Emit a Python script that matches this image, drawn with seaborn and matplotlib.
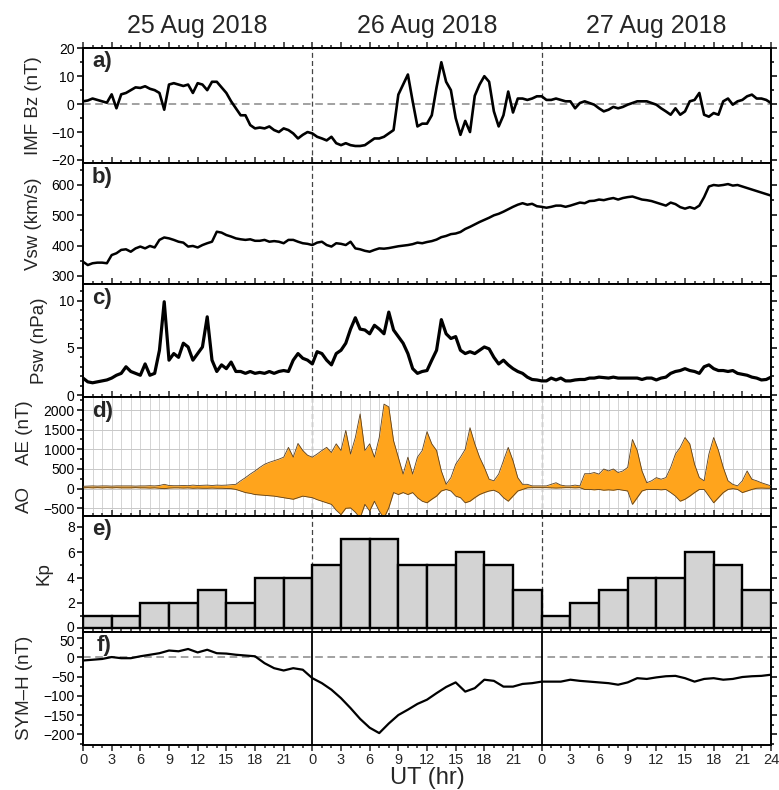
import numpy as np
import pandas as pd
import matplotlib
matplotlib.use("Agg")
import matplotlib.pyplot as plt
import matplotlib.transforms as mtrans
from matplotlib.ticker import MultipleLocator, FixedLocator, FixedFormatter
import seaborn as sns

# ---------------- data ----------------
day_labels = ["25 Aug 2018", "26 Aug 2018", "27 Aug 2018"]

# half-hourly samples, hour 0 (25 Aug 00 UT) to hour 72
t_half = np.arange(0, 72.01, 0.5)

imf_bz = [
    1.0, 1.3, 2.0, 1.5, 1.0, 0.5, 3.5, -1.5, 3.5, 4.0,
    5.0, 6.0, 5.8, 6.4, 5.5, 5.0, 4.0, -2.0, 7.0, 7.5,
    7.0, 6.5, 7.0, 4.0, 7.5, 7.0, 5.0, 8.0, 8.0, 6.0,
    4.0, 1.0, -1.5, -4.0, -4.0, -7.5, -8.7, -8.4, -8.7, -8.0,
    -9.3, -10.0, -8.7, -9.3, -10.5, -12.3, -11.0, -10.0, -10.5, -11.7,
    -12.3, -13.0, -11.7, -14.0, -14.7, -14.0, -14.7, -15.0, -15.0, -14.7,
    -13.5, -12.3, -12.3, -11.7, -10.5, -9.3, 3.4, 7.0, 10.6, 1.0,
    -8.0, -7.0, -7.0, -4.0, 6.0, 15.0, 8.0, 5.0, -5.0, -11.0,
    -6.0, -10.0, 3.0, 7.0, 10.0, 8.0, -2.6, -8.0, -4.0, 4.5,
    -3.0, 2.0, 2.0, 1.5, 2.0, 2.8, 2.8, 1.5, 1.5, 2.0,
    1.5, 1.0, 1.0, -1.5, 0.4, 1.0, 0.4, -0.2, -1.5, -2.6,
    -2.0, -1.0, -1.5, -1.0, -0.2, 0.4, 1.0, 1.0, 1.0, 0.4,
    -0.2, -1.5, -2.6, -3.8, -1.5, -3.8, -2.6, 1.0, 1.5, 4.0,
    -3.8, -4.5, -3.2, -3.8, 1.0, 2.0, -0.2, 1.0, 1.5, 2.8,
    3.4, 2.0, 2.0, 1.5, 0.4,
]

vsw = [
    347, 336, 342, 344, 344, 342, 369, 375, 386, 388,
    380, 391, 397, 391, 399, 394, 419, 427, 424, 419,
    413, 410, 397, 399, 394, 402, 408, 413, 446, 443,
    435, 430, 424, 421, 419, 421, 416, 416, 419, 413,
    415, 413, 408, 419, 419, 413, 408, 406, 402, 410,
    413, 402, 397, 408, 406, 402, 413, 391, 388, 383,
    380, 386, 391, 390, 392, 395, 398, 400, 402, 405,
    410, 408, 412, 415, 420, 428, 432, 438, 440, 445,
    455, 462, 470, 478, 485, 492, 500, 505, 512, 520,
    528, 535, 540, 535, 538, 530, 528, 525, 528, 532,
    532, 528, 532, 537, 542, 540, 547, 548, 552, 550,
    554, 557, 552, 557, 560, 562, 557, 552, 550, 547,
    542, 537, 532, 542, 537, 527, 522, 527, 522, 532,
    560, 595, 600, 598, 600, 603, 598, 600, 595, 590,
    585, 580, 575, 570, 565,
]

psw = [
    1.8, 1.4, 1.3, 1.4, 1.5, 1.6, 1.8, 2.1, 2.3, 3.0,
    2.5, 2.3, 2.1, 3.3, 2.1, 2.3, 4.75, 9.9, 3.7, 4.4,
    4.0, 5.5, 5.1, 3.7, 4.4, 5.1, 8.3, 3.7, 2.5, 3.2,
    2.8, 3.5, 2.5, 2.5, 2.3, 2.5, 2.3, 2.4, 2.3, 2.5,
    2.3, 2.5, 2.6, 2.5, 3.7, 4.4, 3.9, 3.7, 3.3, 4.6,
    4.4, 3.7, 3.2, 4.4, 4.75, 5.5, 7.0, 8.2, 7.0, 6.9,
    6.5, 7.4, 7.0, 6.5, 8.8, 6.9, 6.2, 5.5, 4.4, 2.8,
    2.3, 2.5, 2.6, 3.7, 4.75, 8.0, 6.5, 6.0, 6.2, 4.75,
    4.4, 4.6, 4.4, 4.75, 5.1, 4.9, 4.0, 3.3, 3.7, 3.2,
    2.8, 2.5, 2.3, 1.9, 1.65, 1.6, 1.5, 1.5, 1.8, 1.6,
    1.8, 1.5, 1.5, 1.6, 1.65, 1.65, 1.8, 1.8, 1.9, 1.85,
    1.8, 1.9, 1.8, 1.8, 1.8, 1.8, 1.8, 1.65, 1.8, 1.8,
    1.6, 1.8, 1.9, 2.3, 2.5, 2.6, 2.8, 2.6, 2.5, 2.3,
    3.0, 3.2, 2.8, 2.6, 2.6, 2.5, 2.6, 2.3, 2.2, 2.1,
    1.9, 1.8, 1.6, 1.65, 1.9,
]

ae_upper = [
    60, 65, 70, 65, 70, 70, 65, 70, 70, 70,
    70, 65, 70, 70, 75, 70, 80, 110, 80, 75,
    75, 80, 75, 90, 80, 85, 90, 80, 90, 85,
    90, 100, 110, 200, 280, 370, 450, 540, 620, 670,
    710, 750, 800, 1050, 800, 1150, 970, 850, 800, 880,
    970, 1050, 920, 1140, 970, 1480, 880, 1300, 1900, 970,
    1140, 800, 1300, 2150, 2080, 1220, 800, 370, 800, 370,
    800, 970, 1450, 1140, 970, 450, 110, 280, 620, 800,
    1000, 1550, 1140, 800, 540, 240, 200, 370, 710, 1050,
    710, 280, 110, 110, 70, 70, 70, 70, 110, 150,
    90, 70, 70, 90, 70, 380, 380, 410, 370, 500,
    450, 500, 410, 450, 540, 1250, 970, 450, 150, 200,
    280, 240, 280, 540, 880, 1050, 1300, 1140, 620, 280,
    200, 880, 1300, 970, 540, 200, 110, 70, 200, 450,
    240, 200, 150, 110, 70,
]

ao_lower = [
    20, 25, 20, 25, 20, 25, 20, 25, 20, 20,
    20, 25, 20, 20, 15, 20, 10, 0, 15, 20,
    20, 15, 20, 10, 15, 10, 10, 15, 10, 10,
    5, 0, -20, -60, -100, -120, -150, -160, -170, -180,
    -190, -210, -230, -250, -270, -230, -190, -210, -230, -280,
    -320, -360, -400, -550, -660, -500, -490, -600, -750, -400,
    -570, -320, -570, -750, -490, -100, -150, -100, -150, -100,
    -230, -320, -360, -270, -190, -60, -20, -60, -190, -230,
    -360, -320, -230, -150, -100, -60, -40, -100, -230, -320,
    -190, -60, -20, 20, 25, 25, 25, 25, 20, 15,
    20, 25, 25, 20, 25, -20, -20, -30, -20, -40,
    -30, -40, -20, -40, -60, -400, -230, -60, -20, -20,
    -20, -30, -20, -100, -190, -320, -270, -190, -100, -20,
    -20, -190, -360, -230, -100, -20, 0, -20, -100, -60,
    -20, 10, 15, 10, 10,
]

# 3-hourly Kp
kp_centers = np.arange(1.5, 72, 3)
kp = [1, 1, 2, 2, 3, 2, 4, 4,
      5, 7, 7, 5, 5, 6, 5, 3,
      1, 2, 3, 4, 4, 6, 5, 3]

# hourly SYM-H
t_hour = np.arange(0, 72.01, 1.0)
sym_h = [
    -8, -6, -4, 1, -2, -2, 3, 7, 11, 18,
    16, 22, 13, 20, 11, 10, 7, 5, 3, -15,
    -28, -34, -28, -32, -54, -67, -84, -106, -132, -160,
    -183, -197, -172, -150, -136, -121, -110, -93, -77, -65,
    -89, -80, -58, -61, -76, -76, -69, -67, -63, -63,
    -63, -58, -61, -63, -65, -67, -71, -65, -54, -56,
    -52, -49, -48, -54, -63, -56, -54, -58, -56, -51,
    -49, -48, -45,
]

x_tick_hours = np.arange(0, 73, 3)
x_tick_labels = [str(h % 24) if h < 72 else "24" for h in x_tick_hours]

# ---------------- figure ----------------
sns.set_style("ticks")
plt.rcParams['font.family'] = ['Liberation Sans', 'DejaVu Sans']
plt.rcParams['axes.unicode_minus'] = True

fig = plt.figure(figsize=(7.79, 7.90), dpi=100)
L, W = 83 / 779, 688 / 779


def mk(top_px, bot_px):
    return fig.add_axes([L, 1 - bot_px / 790, W, (bot_px - top_px) / 790])


def style(ax, ylim, major, minor, bottom_out=False):
    ax.set_xlim(0, 72)
    ax.set_ylim(*ylim)
    ax.xaxis.set_major_locator(MultipleLocator(3))
    ax.xaxis.set_minor_locator(MultipleLocator(1))
    ax.yaxis.set_major_locator(MultipleLocator(major))
    ax.yaxis.set_minor_locator(MultipleLocator(minor))
    for s in ax.spines.values():
        s.set_visible(True)
        s.set_linewidth(1.4)
        s.set_color('k')
    ax.tick_params(axis='y', which='both', direction='out', left=True, right=True,
                   labelleft=True, labelright=False, width=1.1, labelsize=10,
                   pad=1.5, colors='k')
    ax.tick_params(axis='y', which='major', length=4.5)
    ax.tick_params(axis='y', which='minor', length=2.5)
    ax.tick_params(axis='x', which='both', bottom=True, top=False,
                   direction='out' if bottom_out else 'in',
                   labelbottom=bottom_out, width=1.1, labelsize=10.5, pad=1.5)
    ax.tick_params(axis='x', which='major', length=4.5)
    ax.tick_params(axis='x', which='minor', length=2.5)
    ax.set_xlabel('')


def day_lines(ax, solid=False):
    for d in (24, 48):
        if solid:
            ax.axvline(d, color='k', lw=1.3, zorder=1)
        else:
            ax.axvline(d, color='#444444', lw=0.9, ls=(0, (4, 2.5)), zorder=0.5)


def letter(ax, s, dx=0.013):
    ax.text(dx, 0.97, s, transform=ax.transAxes, ha='left', va='top',
            fontsize=16, fontweight='bold', zorder=10)


def ylab(ax, s, xr, y=0.5):
    ax.set_ylabel(s, fontsize=13.5)
    ax.yaxis.set_label_coords(xr, y)


# panel a: IMF Bz
ax_a = mk(48, 163.3)
ax_a.axhline(0, color='#888888', lw=1.1, ls=(0, (5, 3)), zorder=0.5)
day_lines(ax_a)
sns.lineplot(x=t_half, y=imf_bz, ax=ax_a, color='k', lw=1.9, estimator=None, sort=False)
style(ax_a, (-21.2, 20.1), 10, 5)
ylab(ax_a, 'IMF Bz (nT)', -0.06)
letter(ax_a, 'a)')
sec = ax_a.secondary_xaxis('top')
sec.xaxis.set_major_locator(MultipleLocator(3))
sec.xaxis.set_minor_locator(MultipleLocator(1))
sec.tick_params(axis='x', which='both', direction='out', labeltop=False, width=1.1)
sec.tick_params(axis='x', which='major', length=4.5)
sec.tick_params(axis='x', which='minor', length=2.5)
sec.spines['top'].set_linewidth(1.4)
trans = mtrans.blended_transform_factory(ax_a.transData, fig.transFigure)
for i, lab in enumerate(day_labels):
    ax_a.text(12 + 24 * i, 1 - 33 / 790, lab, transform=trans, ha='center',
              va='baseline', fontsize=18)

# panel b: Vsw
ax_b = mk(163.3, 284.3)
day_lines(ax_b)
sns.lineplot(x=t_half, y=vsw, ax=ax_b, color='k', lw=1.8, estimator=None, sort=False)
style(ax_b, (272.6, 671.5), 100, 50)
ylab(ax_b, 'Vsw (km/s)', -0.06)
letter(ax_b, 'b)')

# panel c: Psw
ax_c = mk(284.3, 397.3)
day_lines(ax_c)
sns.lineplot(x=t_half, y=psw, ax=ax_c, color='k', lw=2.3, estimator=None, sort=False)
style(ax_c, (-0.24, 11.75), 5, 1)
ylab(ax_c, 'Psw (nPa)', -0.051)
letter(ax_c, 'c)')

# panel d: AE / AO
ax_d = mk(397.3, 515.7)
ax_d.set_axisbelow(True)
ax_d.fill_between(t_half, ao_lower, ae_upper, color='#ffa41c', lw=0, zorder=2)
sns.lineplot(x=t_half, y=ae_upper, ax=ax_d, color='#5a4020', lw=0.6, estimator=None, sort=False, zorder=3)
sns.lineplot(x=t_half, y=ao_lower, ax=ax_d, color='#5a4020', lw=0.6, estimator=None, sort=False, zorder=3)
day_lines(ax_d)
style(ax_d, (-688, 2323), 500, 250)
ax_d.xaxis.grid(True, which='both', color='#d4d4d4', lw=0.7, zorder=0)
ax_d.yaxis.grid(True, which='major', color='#c8c8c8', lw=0.7, zorder=0)
ax_d.set_ylabel('')
ax_d.text(-0.073, 0.70, 'AE (nT)', transform=ax_d.transAxes, rotation=90,
          ha='right', va='center', fontsize=13.5)
ax_d.text(-0.073, 0.135, 'AO', transform=ax_d.transAxes, rotation=90,
          ha='right', va='center', fontsize=13.5)
letter(ax_d, 'd)')

# panel e: Kp
ax_e = mk(515.7, 631.7)
day_lines(ax_e)
kp_df = pd.DataFrame({'t': kp_centers, 'kp': kp})
sns.histplot(data=kp_df, x='t', weights='kp', binwidth=3, binrange=(0, 72), ax=ax_e,
             color='#d3d3d3', edgecolor='k', linewidth=1.7, alpha=1, zorder=2)
style(ax_e, (-0.27, 8.87), 2, 1)
ylab(ax_e, 'Kp', -0.044)
letter(ax_e, 'e)')

# panel f: SYM-H
ax_f = mk(631.7, 745)
ax_f.axhline(0, color='#888888', lw=1.1, ls=(0, (5, 3)), zorder=0.5)
day_lines(ax_f, solid=True)
sns.lineplot(x=t_hour, y=sym_h, ax=ax_f, color='k', lw=1.6, estimator=None, sort=False)
style(ax_f, (-228, 67), 50, 25, bottom_out=True)
ax_f.xaxis.set_major_locator(FixedLocator(x_tick_hours))
ax_f.xaxis.set_major_formatter(FixedFormatter(x_tick_labels))
ylab(ax_f, 'SYM\u2013H (nT)', -0.073)
letter(ax_f, 'f)', dx=0.02)

fig.text(L + W / 2, 1 - 784 / 790, 'UT (hr)', ha='center', va='baseline', fontsize=17)

# nudge the two tick labels that meet at the e/f boundary apart slightly
fig.canvas.draw()
up = mtrans.ScaledTranslation(0, 1.5 / 72, fig.dpi_scale_trans)
down = mtrans.ScaledTranslation(0, -1.5 / 72, fig.dpi_scale_trans)
for lbl in ax_e.get_yticklabels():
    if lbl.get_text() in ('0',):
        lbl.set_transform(lbl.get_transform() + up)
for lbl in ax_f.get_yticklabels():
    if lbl.get_text() in ('50',):
        lbl.set_transform(lbl.get_transform() + down)

fig.savefig('out.png', dpi=100)
